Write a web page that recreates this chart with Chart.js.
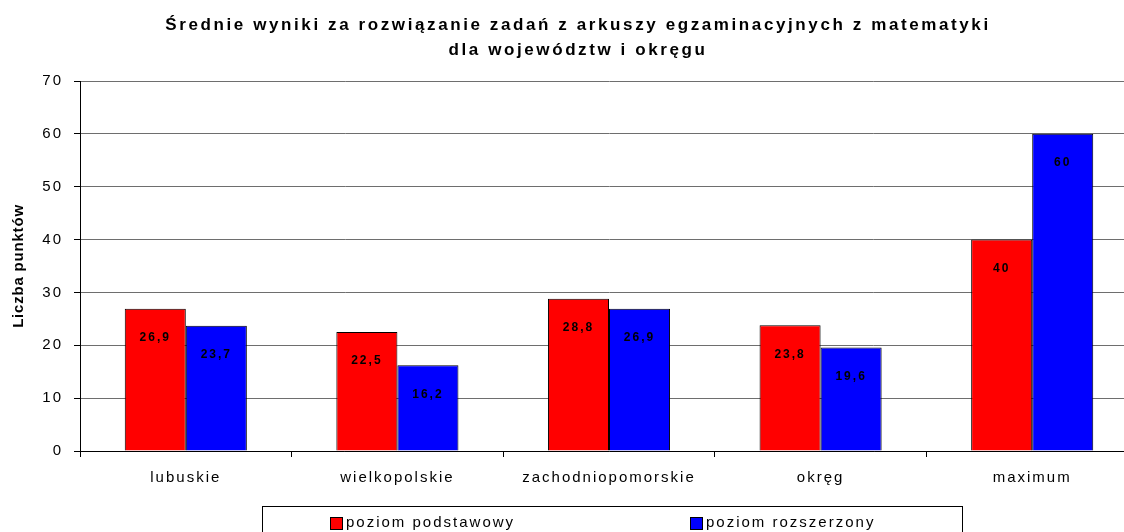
<!DOCTYPE html>
<html>
<head>
<meta charset="utf-8">
<script src="https://cdn.jsdelivr.net/npm/chart.js@4"></script>
<style>
  html, body { margin: 0; padding: 0; background: #fff; overflow: hidden; }
  #wrap { width: 1124px; height: 532px; overflow: hidden; }
</style>
</head>
<body>
<div id="wrap"><canvas id="chart" width="1138" height="532"></canvas></div>
<script>
const titleLines = ['Średnie wyniki za rozwiązanie zadań z arkuszy egzaminacyjnych z matematyki', 'dla województw i okręgu'];
const yTitle = 'Liczba punktów';
const categories = ['lubuskie', 'wielkopolskie', 'zachodniopomorskie', 'okręg', 'maximum'];
const seriesNames = ['poziom podstawowy', 'poziom rozszerzony'];
const podstawowy = [26.9, 22.5, 28.8, 23.8, 40];
const rozszerzony = [23.7, 16.2, 26.9, 19.6, 60];
const yMin = 0, yMax = 70, yStep = 10;

const FONT = "'Liberation Sans', Arial, sans-serif";

// odstępy między literami jak w oryginale (Excel)
const spacingPlugin = {
    id: 'spacing',
    beforeDraw(chart) {
        chart.ctx.letterSpacing = '2px';
    }
};

// tytuł + tytuł osi Y rysowane ręcznie
const titlesPlugin = {
    id: 'titles',
    afterDraw(chart) {
        const ctx = chart.ctx;
        ctx.save();
        ctx.fillStyle = '#000';
        ctx.textAlign = 'center';
        ctx.textBaseline = 'middle';
        ctx.font = 'bold 17px ' + FONT;
        ctx.letterSpacing = '2.6px';
        ctx.fillText(titleLines[0], 578, 25);
        ctx.fillText(titleLines[1], 578, 50);

        ctx.font = 'bold 15px ' + FONT;
        ctx.letterSpacing = '0.8px';
        ctx.translate(19, (chart.chartArea.top + chart.chartArea.bottom) / 2);
        ctx.rotate(-Math.PI / 2);
        ctx.fillText(yTitle, 0, 0);
        ctx.restore();
    }
};

// etykiety wartości wewnątrz słupków
const valueLabels = {
    id: 'valueLabels',
    afterDatasetsDraw(chart) {
        const ctx = chart.ctx;
        ctx.save();
        ctx.fillStyle = '#000';
        ctx.font = 'bold 12px ' + FONT;
        ctx.letterSpacing = '2px';
        ctx.textAlign = 'center';
        ctx.textBaseline = 'middle';
        chart.data.datasets.forEach((ds, i) => {
            chart.getDatasetMeta(i).data.forEach((bar, j) => {
                const txt = String(ds.data[j]).replace('.', ',');
                ctx.fillText(txt, bar.x, bar.y + 29);
            });
        });
        ctx.restore();
    }
};

// legenda w ramce pod wykresem
const boxLegend = {
    id: 'boxLegend',
    afterDraw(chart) {
        const ctx = chart.ctx;
        ctx.save();
        ctx.strokeStyle = '#000';
        ctx.lineWidth = 1;
        ctx.strokeRect(262.5, 506.5, 700, 40);
        const xs = [330, 690];
        ctx.font = '15px ' + FONT;
        ctx.letterSpacing = '2px';
        ctx.textBaseline = 'middle';
        ctx.textAlign = 'left';
        chart.data.datasets.forEach((ds, i) => {
            ctx.fillStyle = ds.backgroundColor;
            ctx.fillRect(xs[i], 517, 13, 13);
            ctx.strokeRect(xs[i] + 0.5, 517.5, 12, 12);
            ctx.fillStyle = '#000';
            ctx.fillText(ds.label, xs[i] + 16, 523);
        });
        ctx.restore();
    }
};

new Chart(document.getElementById('chart'), {
    type: 'bar',
    data: {
        labels: categories,
        datasets: [
            {
                label: seriesNames[0],
                data: podstawowy,
                backgroundColor: '#FF0000',
                borderColor: '#000',
                borderWidth: 1,
                categoryPercentage: 0.577,
                barPercentage: 1
            },
            {
                label: seriesNames[1],
                data: rozszerzony,
                backgroundColor: '#0000FF',
                borderColor: '#000',
                borderWidth: 1,
                categoryPercentage: 0.577,
                barPercentage: 1
            }
        ]
    },
    options: {
        responsive: false,
        animation: false,
        devicePixelRatio: 1,
        layout: { padding: { top: 81, left: 0, right: 0, bottom: 0 } },
        plugins: {
            legend: { display: false },
            title: { display: false },
            tooltip: { enabled: false }
        },
        scales: {
            x: {
                offset: true,
                afterFit: s => { s.height = 81; },
                grid: { drawOnChartArea: false, drawTicks: true, tickLength: 6, tickColor: '#000', offset: true },
                border: { color: '#000' },
                ticks: { color: '#000', font: { family: FONT, size: 15 }, padding: 12, maxRotation: 0 }
            },
            y: {
                min: yMin,
                max: yMax,
                afterFit: s => { s.width = 80; },
                grid: { color: '#6e6e6e', tickLength: 6, tickColor: '#000' },
                border: { color: '#000' },
                ticks: { stepSize: yStep, color: '#000', font: { family: FONT, size: 15 }, padding: 11 }
            }
        }
    },
    plugins: [spacingPlugin, valueLabels, titlesPlugin, boxLegend]
});
</script>
</body>
</html>
